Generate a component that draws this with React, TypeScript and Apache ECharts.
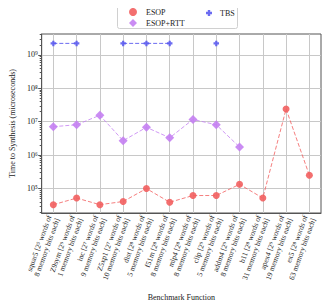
import React, { useEffect, useRef } from "react";
import * as echarts from "echarts";

const categories = [
  "squar5 [2⁵ words of\n8 memory bits each]",
  "Z9sym [2⁹ words of\n1 memory bits each]",
  "inc [2⁷ words of\n9 memory bits each]",
  "Z5xp1 [2⁷ words of\n10 memory bits each]",
  "dist [2⁸ words of\n5 memory bits each]",
  "f51m [2⁸ words of\n8 memory bits each]",
  "mlp4 [2⁸ words of\n8 memory bits each]",
  "clip [2⁹ words of\n5 memory bits each]",
  "addm4 [2⁹ words of\n8 memory bits each]",
  "b11 [2⁸ words of\n31 memory bits each]",
  "apex4 [2⁹ words of\n19 memory bits each]",
  "ex5 [2⁸ words of\n63 memory bits each]",
];

const esop = [33000, 52000, 33000, 41000, 100000, 39000, 62000, 62000, 134000, 52000, 24000000, 250000];
const esopRtt = [7100000, 8100000, 15600000, 2700000, 6800000, 3300000, 11700000, 8100000, 1750000, null, null, null];
const tbs = [2200000000, 2200000000, null, 2200000000, 2200000000, 2200000000, null, 2200000000, null, null, null, null];

const yTickValues = [1e5, 1e6, 1e7, 1e8, 1e9];
const minorTicks = [
  2e4, 3e4, 4e4, 5e4, 6e4, 7e4, 8e4, 9e4,
  2e5, 3e5, 4e5, 5e5, 6e5, 7e5, 8e5, 9e5,
  2e6, 3e6, 4e6, 5e6, 6e6, 7e6, 8e6, 9e6,
  2e7, 3e7, 4e7, 5e7, 6e7, 7e7, 8e7, 9e7,
  2e8, 3e8, 4e8, 5e8, 6e8, 7e8, 8e8, 9e8,
  2e9, 3e9, 4e9,
];

const FONT = "Liberation Serif";
const SUP: Record<string, string> = { "0": "⁰", "1": "¹", "2": "²", "3": "³", "4": "⁴", "5": "⁵", "6": "⁶", "7": "⁷", "8": "⁸", "9": "⁹" };

const RED = "#f25f5f";
const PURPLE = "#c47ff2";
const BLUE = "#5b5bf0";
const PLUS = "path://M3,0H7V3H10V7H7V10H3V7H0V3H3Z";

export default function App() {
  const ref = useRef<HTMLDivElement>(null);
  useEffect(() => {
    if (!ref.current) return;
    const chart = echarts.init(ref.current, undefined, { renderer: "svg" });
    chart.setOption({
      animation: false,
      textStyle: { fontFamily: FONT },
      graphic: [
        {
          type: "rect",
          shape: { x: 117.5, y: 2.5, width: 120, height: 26, r: 2 },
          style: { fill: "#fff", stroke: "#d0d0d0", lineWidth: 1 },
          z: 0,
        },
      ],
      legend: [
        {
          orient: "vertical",
          left: 124,
          top: 3,
          itemWidth: 8,
          itemHeight: 8,
          itemGap: 3,
          data: [
            { name: "ESOP", icon: "circle" },
            { name: "ESOP+RTT", icon: "diamond" },
          ],
          textStyle: { fontFamily: FONT, fontSize: 8, color: "#222", padding: [0, 0, 0, 4] },
          z: 10,
        },
        {
          orient: "vertical",
          left: 201,
          top: 4,
          itemWidth: 6,
          itemHeight: 6,
          data: [{ name: "TBS", icon: PLUS }],
          textStyle: { fontFamily: FONT, fontSize: 8, color: "#222", padding: [0, 0, 0, 3] },
          z: 10,
        },
      ],
      grid: {
        left: 32,
        right: 11,
        top: 34,
        bottom: 91,
        show: true,
        borderColor: "#555",
        borderWidth: 1,
        backgroundColor: "transparent",
      },
      xAxis: {
        type: "category",
        data: categories,
        boundaryGap: true,
        name: "Benchmark Function",
        nameLocation: "middle",
        nameGap: 80,
        nameTextStyle: { fontFamily: FONT, fontSize: 8, color: "#222" },
        axisLine: { lineStyle: { color: "#555", width: 1 } },
        axisTick: { alignWithLabel: true, length: 3, lineStyle: { color: "#555" } },
        splitLine: { show: true, alignWithLabel: true, lineStyle: { color: "#c8c8c8", width: 1 } } as any,
        axisLabel: {
          rotate: 70,
          interval: 0,
          fontFamily: FONT,
          fontSize: 7.5,
          lineHeight: 8.5,
          color: "#222",
          margin: 4,
        },
      },
      yAxis: [
        {
          type: "log",
          logBase: 10,
          min: 18600,
          max: 4200000000,
          name: "Time to Synthesis (microseconds)",
          nameLocation: "middle",
          nameGap: 22,
          nameTextStyle: { fontFamily: FONT, fontSize: 8, color: "#222" },
          axisLine: { show: true, lineStyle: { color: "#555", width: 1 } },
          axisTick: { show: true, length: 3.5, customValues: yTickValues, lineStyle: { color: "#555" } },
          splitLine: { show: true, lineStyle: { color: "#c8c8c8", width: 1 } },
          axisLabel: {
            customValues: yTickValues,
            fontFamily: FONT,
            fontSize: 8,
            color: "#222",
            margin: 4,
            formatter: (v: number) => {
              const e = Math.log10(v);
              if (Math.abs(e - Math.round(e)) > 1e-6) return "";
              return "10" + String(Math.round(e)).split("").map((c) => SUP[c]).join("");
            },
          },
        } as any,
        {
          type: "log",
          logBase: 10,
          min: 18600,
          max: 4200000000,
          position: "left",
          axisLine: { show: false },
          axisLabel: { show: false },
          splitLine: { show: false },
          axisTick: { show: true, length: 2, customValues: minorTicks, lineStyle: { color: "#555" } },
        } as any,
      ],
      series: [
        {
          name: "ESOP",
          type: "line",
          data: esop,
          symbol: "circle",
          symbolSize: 7,
          itemStyle: { color: RED, opacity: 0.9 },
          lineStyle: { color: RED, type: "dashed", width: 1, opacity: 0.8 },
          z: 3,
        },
        {
          name: "ESOP+RTT",
          type: "line",
          data: esopRtt,
          symbol: "diamond",
          symbolSize: 9,
          itemStyle: { color: PURPLE, opacity: 0.9 },
          lineStyle: { color: PURPLE, type: "dashed", width: 1, opacity: 0.8 },
          z: 3,
        },
        {
          name: "TBS",
          type: "line",
          data: tbs,
          symbol: PLUS,
          symbolSize: 5.5,
          connectNulls: false,
          itemStyle: { color: BLUE, opacity: 0.9 },
          lineStyle: { color: BLUE, type: "dashed", width: 1, opacity: 0.9 },
          z: 3,
        },
      ],
    });
    return () => chart.dispose();
  }, []);
  return <div ref={ref} style={{ width: 332, height: 306, marginLeft: -8, marginTop: -8 }} />;
}
